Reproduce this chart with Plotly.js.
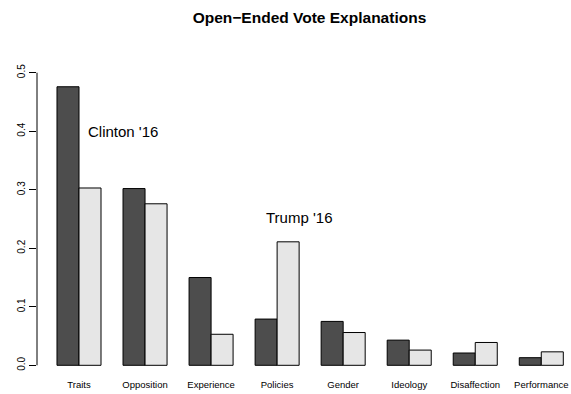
<!DOCTYPE html>
<html>
<head>
<meta charset="utf-8">
<script src="https://cdn.plot.ly/plotly-3.0.1.min.js"></script>
<style>html,body{margin:0;padding:0;background:#fff}#chart{width:571px;height:394px}</style>
</head>
<body>
<div id="chart"></div>
<script>
const categories = ["Traits","Opposition","Experience","Policies","Gender","Ideology","Disaffection","Performance"];
const clinton16 = [0.476, 0.302, 0.150, 0.079, 0.075, 0.043, 0.021, 0.013];
const trump16 = [0.303, 0.276, 0.053, 0.211, 0.056, 0.026, 0.039, 0.023];
const yTicks = [0, 0.1, 0.2, 0.3, 0.4, 0.5];
const labelClinton = "Clinton '16";
const labelTrump = "Trump '16";

const font = "Liberation Sans, Arial, Helvetica, sans-serif";
const traces = [
  {type:"bar", x:categories, y:clinton16, name:labelClinton,
   marker:{color:"#4d4d4d", line:{color:"#000", width:1}}},
  {type:"bar", x:categories, y:trump16, name:labelTrump,
   marker:{color:"#e6e6e6", line:{color:"#000", width:1}}}
];
const layout = {
  width:571, height:394,
  margin:{l:37, r:0, t:61, b:17, pad:0},
  paper_bgcolor:"#fff", plot_bgcolor:"#fff",
  barmode:"group", bargap:1/3, bargroupgap:0,
  showlegend:false,
  font:{family:font, color:"#000"},
  title:{text:"<b>Open\u2212Ended Vote Explanations</b>", x:0.542, xanchor:"center", y:0.955, yanchor:"middle", font:{size:15.5, family:font, color:"#000"}},
  xaxis:{type:"category", range:[-0.636, 7.45], showgrid:false, zeroline:false, showline:false,
         ticks:"", tickfont:{size:9.5, family:font}, fixedrange:true},
  yaxis:{range:[-0.02, 0.52], showgrid:false, zeroline:false, showline:false,
         tickvals:yTicks, ticktext:yTicks.map(v=>v.toFixed(1)), ticks:"outside", ticklen:7, tickwidth:1, tickcolor:"#000",
         tickangle:-90, tickfont:{size:10, family:font}},
  shapes:[{type:"line", xref:"paper", yref:"y", x0:0, x1:0, y0:yTicks[0], y1:yTicks[yTicks.length-1], line:{color:"#000", width:1}}],
  annotations:[
    {x:0.662, y:0.399, xref:"x", yref:"y", text:labelClinton, showarrow:false, font:{size:15, family:font, color:"#000"}},
    {x:3.333, y:0.252, xref:"x", yref:"y", text:labelTrump, showarrow:false, font:{size:15, family:font, color:"#000"}}
  ]
};
Plotly.newPlot("chart", traces, layout, {staticPlot:true, displayModeBar:false});
</script>
</body>
</html>
